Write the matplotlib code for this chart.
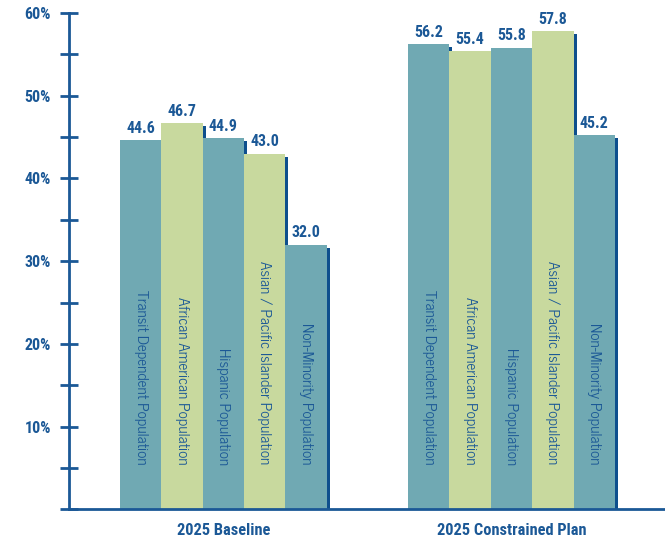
import matplotlib
matplotlib.use("Agg")
import matplotlib.pyplot as plt
import matplotlib.transforms as mtransforms
from matplotlib.ticker import MultipleLocator, FuncFormatter

# Share of each population group within reach of transit
groups = ["2025 Baseline", "2025 Constrained Plan"]
populations = [
    "Transit Dependent Population",
    "African American Population",
    "Hispanic Population",
    "Asian / Pacific Islander Population",
    "Non-Minority Population",
]
baseline = [44.6, 46.7, 44.9, 43.0, 32.0]
constrained = [56.2, 55.4, 55.8, 57.8, 45.2]

TEAL = "#70a9b3"
GREEN = "#c8d99e"
NAVY = "#1b5896"
SHADOW = "#0e4f8d"
bar_colors = [TEAL, GREEN, TEAL, GREEN, TEAL]
LABEL_FONT = ["News Cycle", "DejaVu Sans"]
BOLD_FONT = ["Roboto Condensed", "DejaVu Sans"]

fig = plt.figure(figsize=(6.65, 5.39), dpi=100)
ax = fig.add_axes([0.1038, 0.0549, 0.8962, 0.9213])

group_start = [1.23, 8.19]
shadow_tr = ax.transData + mtransforms.ScaledTranslation(3 / 100, -3 / 100, fig.dpi_scale_trans)

for g, vals in enumerate([baseline, constrained]):
    xs = [group_start[g] + i + 0.5 for i in range(len(vals))]
    # drop shadow behind each bar
    for x, v in zip(xs, vals):
        ax.bar(x, v, width=1.0, color=SHADOW, transform=shadow_tr, zorder=1)
    ax.bar(xs, vals, width=1.0, color=bar_colors, zorder=2)
    for x, v, name in zip(xs, vals, populations):
        ax.annotate(f"{v:.1f}", (x, v), xytext=(0, 3), textcoords="offset points",
                    ha="center", va="bottom", color=NAVY, fontsize=11.5,
                    fontweight="bold", family=BOLD_FONT, zorder=4)
        ax.text(x, 5.4, name, rotation=-90, rotation_mode="anchor", ha="right", va="center",
                color=NAVY, fontsize=11, family=LABEL_FONT, zorder=4)
    ax.text(group_start[g] + len(vals) / 2, -2.6, groups[g], ha="center", va="center",
            color=NAVY, fontsize=11.8, fontweight="bold", family=BOLD_FONT)

ax.set_xlim(0, 14.4)
ax.set_ylim(0, 60)

for side in ["top", "right"]:
    ax.spines[side].set_visible(False)
for side in ["left", "bottom"]:
    ax.spines[side].set_color(NAVY)
    ax.spines[side].set_linewidth(2)
    ax.spines[side].set_zorder(5)

ax.set_xticks([])
ax.yaxis.set_major_locator(MultipleLocator(10))
ax.yaxis.set_minor_locator(MultipleLocator(5))
ax.yaxis.set_major_formatter(FuncFormatter(lambda v, p: f"{v:.0f}%" if v > 0 else ""))
ax.tick_params(axis="y", which="both", direction="inout", length=13, width=2, color=NAVY)
ax.tick_params(axis="y", which="major", labelcolor=NAVY, labelsize=11.5, pad=6.5)
for lbl in ax.get_yticklabels():
    lbl.set_fontweight("bold")
    lbl.set_family(BOLD_FONT)
# no tick mark at the origin
ax.yaxis.get_major_ticks()[0].tick1line.set_visible(False)

fig.savefig("out.png", dpi=100)
